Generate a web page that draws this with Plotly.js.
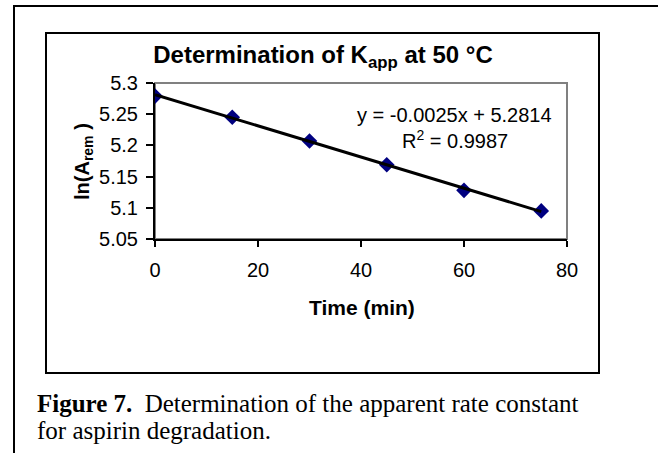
<!DOCTYPE html>
<html>
<head>
<meta charset="utf-8">
<script src="https://cdn.plot.ly/plotly-3.0.1.min.js"></script>
<style>
  html, body { margin:0; padding:0; background:#fff; }
  body { width:658px; height:453px; position:relative; overflow:hidden; }
  #outerTop { position:absolute; left:13px; top:5px; width:645px; height:2px; background:#000; }
  #outerLeft { position:absolute; left:13px; top:5px; width:2px; height:448px; background:#000; }
  #box { position:absolute; left:45px; top:32px; width:551px; height:338px; border:2px solid #000; }
  #chart { position:absolute; left:0; top:0; width:658px; height:453px; }
  #caption { position:absolute; left:37px; top:390px; font-family:"Liberation Serif","Times New Roman",serif; font-size:25px; line-height:27px; color:#000; white-space:nowrap; }
  #caption b { margin-right:6px; }
</style>
</head>
<body>
<div id="outerTop"></div>
<div id="outerLeft"></div>
<div id="box"></div>
<div id="chart"></div>
<div id="caption"><b>Figure 7.</b> Determination of the apparent rate constant<br>for aspirin degradation.</div>
<script>
const timeMin = [0, 15, 30, 45, 60, 75];
const lnArem = [5.279, 5.245, 5.207, 5.169, 5.128, 5.095];
const fitSlope = -0.0025;
const fitIntercept = 5.2814;
const rSquared = 0.9987;
const fitRange = [0, 75];
const xTicks = [0, 20, 40, 60, 80];
const yTicks = [5.05, 5.1, 5.15, 5.2, 5.25, 5.3];

const fitY = fitRange.map(x => fitSlope * x + fitIntercept);

const W = 658, H = 453;
const L = 155, R = W - 567, T = 83, B = H - 239;
const PW = W - L - R, PH = H - T - B;

const traces = [
  { x: timeMin, y: lnArem, mode: 'markers', type: 'scatter',
    marker: { symbol: 'diamond', size: 12, color: '#000080', line: { width: 0 } },
    showlegend: false, hoverinfo: 'skip' },
  { x: fitRange, y: fitY, mode: 'lines', type: 'scatter',
    line: { color: '#000', width: 3 }, showlegend: false, hoverinfo: 'skip' }
];

const layout = {
  width: W, height: H,
  margin: { l: L, r: R, t: T, b: B, pad: 0 },
  paper_bgcolor: 'rgba(0,0,0,0)',
  plot_bgcolor: 'rgba(0,0,0,0)',
  font: { family: 'Liberation Sans, Arial, sans-serif', color: '#000' },
  title: {
    text: '<b>Determination of K<sub>app</sub> at 50 °C</b>',
    font: { size: 24, color: '#000' },
    xref: 'paper', x: (323 - L) / PW, xanchor: 'center',
    yref: 'container', y: 1 - 55 / H, yanchor: 'middle'
  },
  xaxis: {
    range: [0, 80], tickvals: xTicks, ticktext: xTicks.map(String),
    showgrid: false, zeroline: false, showline: true, linecolor: '#000', linewidth: 2,
    ticks: 'outside', ticklen: 6, tickwidth: 2, tickcolor: '#000',
    tickfont: { size: 20 }, ticklabelstandoff: 6
  },
  yaxis: {
    range: [5.05, 5.3], tickvals: yTicks, ticktext: yTicks.map(String),
    showgrid: false, zeroline: false, showline: true, linecolor: '#000', linewidth: 2,
    ticks: 'outside', ticklen: 7, tickwidth: 2, tickcolor: '#000',
    tickfont: { size: 20 }, ticklabelstandoff: 4
  },
  shapes: [
    { type: 'rect', xref: 'paper', yref: 'paper', x0: 0, x1: 1, y0: 0, y1: 1,
      line: { color: '#808080', width: 2 }, layer: 'below' }
  ],
  annotations: [
    { xref: 'x', yref: 'y', x: 58.2, y: 5.249,
      text: 'y = ' + fitSlope.toFixed(4) + 'x + ' + fitIntercept.toFixed(4),
      showarrow: false, font: { size: 20 }, xanchor: 'center', yanchor: 'middle' },
    { xref: 'x', yref: 'y', x: 58.2, y: 5.209, text: 'R<sup>2</sup> = ' + rSquared,
      showarrow: false, font: { size: 20 }, xanchor: 'center', yanchor: 'middle' },
    { xref: 'paper', yref: 'paper', x: (362 - L) / PW, y: (H - B - 307) / PH,
      text: '<b>Time (min)</b>', showarrow: false, font: { size: 21 },
      xanchor: 'center', yanchor: 'middle' },
    { xref: 'paper', yref: 'paper', x: (83 - L) / PW, y: (H - B - 162) / PH,
      text: '<b>ln(A<sub>rem</sub> )</b>', showarrow: false, font: { size: 20 }, textangle: -90,
      xanchor: 'center', yanchor: 'middle' }
  ]
};

Plotly.newPlot('chart', traces, layout, { staticPlot: true, displayModeBar: false });
</script>
</body>
</html>
